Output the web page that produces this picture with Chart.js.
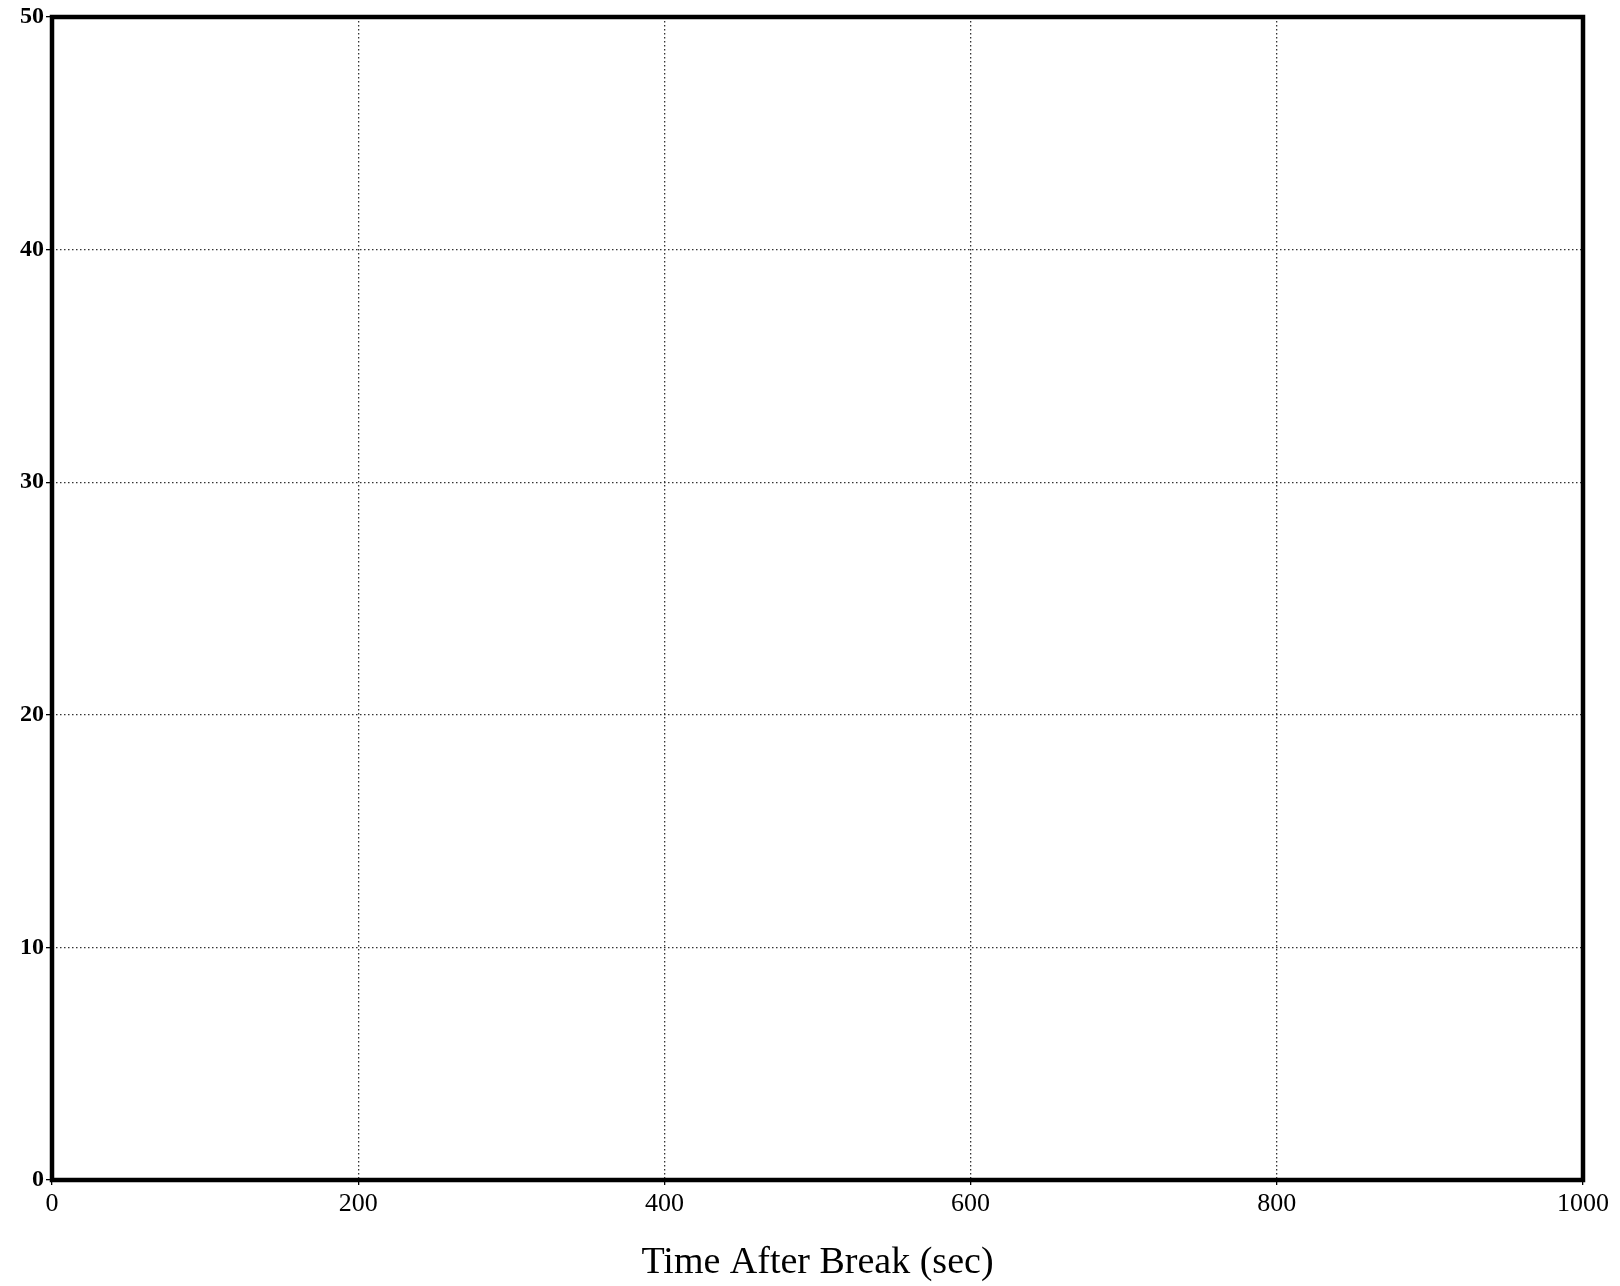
<!DOCTYPE html>
<html><head><meta charset="utf-8">
<script src="https://cdn.jsdelivr.net/npm/chart.js@4"></script>
<style>html,body{margin:0;padding:0;background:#fff}#wrap{width:1620px;height:1286px}</style>
</head><body><div id="wrap"><canvas id="c" width="1620" height="1286"></canvas></div>
<script>
const xTicks = [0, 200, 400, 600, 800, 1000];
const yTicks = [0, 10, 20, 30, 40, 50];
const seriesX = [];
const seriesY = [];
const xTitle = "Time After Break (sec)";

const border = {
  id: 'border',
  afterDraw(chart) {
    const a = chart.chartArea, ctx = chart.ctx;
    ctx.save();
    ctx.strokeStyle = '#000';
    ctx.lineWidth = 4.5;
    ctx.strokeRect(a.left, a.top, a.right - a.left, a.bottom - a.top);
    ctx.restore();
  }
};

new Chart(document.getElementById('c'), {
  type: 'scatter',
  data: { datasets: [{ data: seriesX.map((x, i) => ({ x, y: seriesY[i] })), pointRadius: 2, backgroundColor: '#000', borderColor: '#000' }] },
  options: {
    responsive: false, animation: false,
    layout: { padding: { top: 17, right: 37, left: 0, bottom: 0 } },
    plugins: { legend: { display: false }, tooltip: { enabled: false } },
    scales: {
      x: {
        type: 'linear', min: 0, max: 1000,
        afterBuildTicks(s) { s.ticks = xTicks.map(v => ({ value: v })); },
        afterFit(s) { s.height = 106; },
        grid: { color: '#333', lineWidth: 1.3, drawTicks: true, tickLength: 5, tickColor: '#000' },
        border: { display: false, dash: [1.5, 2.5] },
        ticks: { color: '#000', font: { family: 'Liberation Serif', size: 26 }, padding: 4, maxRotation: 0, callback: v => String(v) },
        title: { display: true, text: xTitle, color: '#000', font: { family: 'Liberation Serif', size: 38 }, padding: { top: 13, bottom: 0 } }
      },
      y: {
        type: 'linear', min: 0, max: 50,
        afterBuildTicks(s) { s.ticks = yTicks.map(v => ({ value: v })); },
        afterFit(s) { s.width = 52; },
        grid: { color: '#333', lineWidth: 1.3, drawTicks: true, tickLength: 6, tickColor: '#000' },
        border: { display: false, dash: [1.5, 2.5] },
        ticks: { color: '#000', font: { family: 'Liberation Serif', size: 24, weight: 'bold' }, padding: 2, callback: v => String(v) }
      }
    }
  },
  plugins: [border]
});
</script>
</body></html>
